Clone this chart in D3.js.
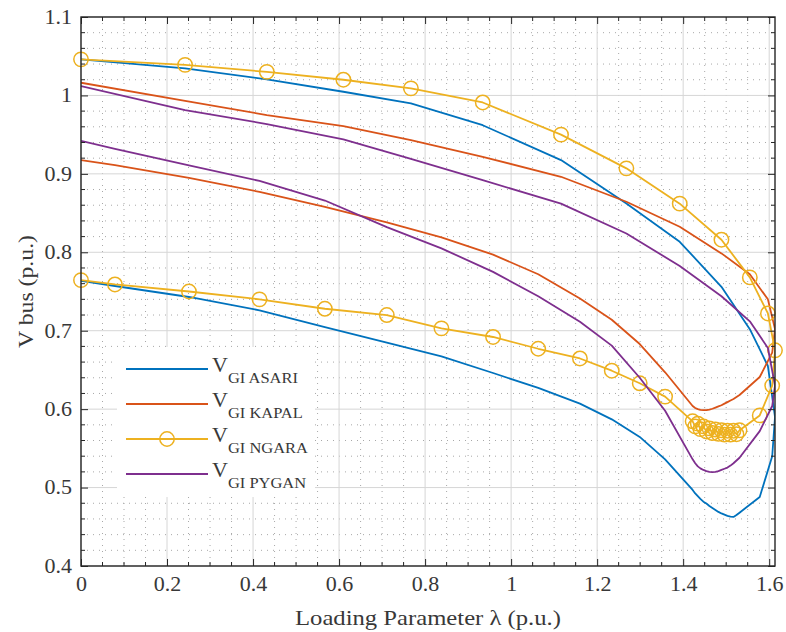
<!DOCTYPE html>
<html><head><meta charset="utf-8">
<script src="https://cdn.jsdelivr.net/npm/d3@7"></script>
<style>
html,body{margin:0;padding:0;background:#fff;}
svg{display:block;}
text{font-family:"Liberation Serif","Times New Roman",serif;fill:#383838;}
</style></head><body>
<svg id="chart" width="786" height="632"></svg>
<script>
// PV curves from a continuation power flow: bus voltage against loading parameter.
// Every bus shares the same sequence of continuation steps (upper branch -> nose -> lower branch).
const lambda = [
  0, 0.242, 0.432, 0.610, 0.767, 0.934, 1.116, 1.268, 1.392, 1.489, 1.555, 1.597, 1.6135,
  1.607, 1.578,
  1.531, 1.524, 1.517, 1.510, 1.503, 1.496, 1.489, 1.482, 1.475, 1.468, 1.461, 1.454, 1.447, 1.440, 1.434, 1.428, 1.422,
  1.358, 1.299, 1.234, 1.160, 1.063, 0.958, 0.838, 0.711, 0.567, 0.415, 0.251, 0.079, 0
];
const vAsari = [
  1.046, 1.0346, 1.0205, 1.0047, 0.990, 0.962, 0.9176, 0.8623, 0.8134, 0.756, 0.702, 0.655, 0.590,
  0.540, 0.488,
  0.468, 0.465, 0.4626, 0.463, 0.464, 0.4655, 0.467, 0.469, 0.4715, 0.474, 0.4765, 0.4796, 0.482, 0.4855, 0.489, 0.4925, 0.497,
  0.536, 0.5646, 0.587, 0.607, 0.627, 0.6461, 0.6674, 0.6848, 0.7045, 0.726, 0.743, 0.757, 0.7635
];
const vKapal = [
  1.0162, 0.9932, 0.975, 0.961, 0.9431, 0.9218, 0.8963, 0.8644, 0.8325, 0.7986, 0.772, 0.740, 0.702,
  0.672, 0.641,
  0.618, 0.6155, 0.613, 0.611, 0.609, 0.607, 0.605, 0.6035, 0.602, 0.6005, 0.5995, 0.5988, 0.5987, 0.599, 0.600, 0.6015, 0.604,
  0.647, 0.683, 0.714, 0.741, 0.772, 0.797, 0.819, 0.838, 0.858, 0.877, 0.895, 0.911, 0.9176
];
const vNgara = [
  1.046, 1.039, 1.030, 1.020, 1.009, 0.991, 0.950, 0.907, 0.862, 0.816, 0.768, 0.722, 0.675,
  0.630, 0.592,
  0.573, 0.568, 0.5725, 0.5675, 0.5725, 0.5675, 0.573, 0.5685, 0.574, 0.5695, 0.5755, 0.5715, 0.578, 0.5745, 0.5815, 0.578, 0.5845,
  0.616, 0.633, 0.649, 0.6646, 0.677, 0.692, 0.703, 0.720, 0.728, 0.740, 0.750, 0.759, 0.7645
];
const vPygan = [
  1.012, 0.9814, 0.9635, 0.944, 0.919, 0.892, 0.862, 0.824, 0.7825, 0.744, 0.712, 0.678, 0.630,
  0.604, 0.572,
  0.538, 0.5345, 0.531, 0.528, 0.5255, 0.524, 0.5225, 0.521, 0.520, 0.5198, 0.520, 0.521, 0.5225, 0.5245, 0.527, 0.531, 0.536,
  0.598, 0.640, 0.681, 0.7115, 0.744, 0.775, 0.805, 0.832, 0.866, 0.891, 0.9108, 0.932, 0.9422
];
const busNames = ["GI ASARI", "GI KAPAL", "GI NGARA", "GI PYGAN"];
const busColors = ["#0072BD", "#D95319", "#EDB120", "#7E2F8E"];
const busMarkers = [false, false, true, false];
const xTicks = [0, 0.2, 0.4, 0.6, 0.8, 1, 1.2, 1.4, 1.6];
const yTicks = [0.4, 0.5, 0.6, 0.7, 0.8, 0.9, 1, 1.1];
const xLabel = "Loading Parameter λ (p.u.)";
const yLabel = "V bus (p.u.)";

const W = 786, H = 632;
const m = {left: 81, top: 17, right: 11, bottom: 66};
const SX = 1.1; // horizontal text stretch
const x = d3.scaleLinear().domain([0, 1.6135]).range([m.left, W - m.right]);
const y = d3.scaleLinear().domain([0.4, 1.1]).range([H - m.bottom, m.top]);
const svg = d3.select("#chart");
const fmt = d => String(+d.toFixed(2));
const textCol = "#383838";

// minor grid positions
const xMinor = d3.range(1, 33).filter(i => i % 4 !== 0).map(i => i * 0.05);
const yMinor = d3.range(1, 35).filter(i => i % 5 !== 0).map(i => 0.4 + i * 0.02);

const grid = svg.append("g");
grid.selectAll(".mx").data(xMinor).join("line")
  .attr("x1", d => x(d)).attr("x2", d => x(d)).attr("y1", y(1.1)).attr("y2", y(0.4))
  .attr("stroke", "#a8a8a8").attr("stroke-width", 1).attr("stroke-dasharray", "1,5");
grid.selectAll(".my").data(yMinor).join("line")
  .attr("y1", d => y(d)).attr("y2", d => y(d)).attr("x1", x(0)).attr("x2", x.range()[1])
  .attr("stroke", "#a8a8a8").attr("stroke-width", 1).attr("stroke-dasharray", "1,5");
grid.selectAll(".gx").data(xTicks).join("line")
  .attr("x1", d => x(d)).attr("x2", d => x(d)).attr("y1", y(1.1)).attr("y2", y(0.4))
  .attr("stroke", "#d6d6d6").attr("stroke-width", 1);
grid.selectAll(".gy").data(yTicks).join("line")
  .attr("y1", d => y(d)).attr("y2", d => y(d)).attr("x1", x(0)).attr("x2", x.range()[1])
  .attr("stroke", "#d6d6d6").attr("stroke-width", 1);

// curves
svg.append("clipPath").attr("id", "plotclip").append("rect")
  .attr("x", m.left).attr("y", m.top).attr("width", W - m.left - m.right).attr("height", H - m.top - m.bottom);
const seriesValues = [vAsari, vKapal, vNgara, vPygan];
const line = d3.line().x(d => x(d[0])).y(d => y(d[1]));
const curves = svg.append("g");
seriesValues.forEach((vals, k) => {
  const pts = lambda.map((l, i) => [l, vals[i]]);
  curves.append("path").datum(pts).attr("d", line)
    .attr("fill", "none").attr("stroke", busColors[k]).attr("stroke-width", 1.8)
    .attr("stroke-linejoin", "round").attr("clip-path", "url(#plotclip)");
  if (busMarkers[k]) {
    curves.append("g").selectAll("circle").data(pts).join("circle")
      .attr("cx", d => x(d[0])).attr("cy", d => y(d[1])).attr("r", 7.2)
      .attr("fill", "none").attr("stroke", busColors[k]).attr("stroke-width", 1.5);
  }
});

// axes box and ticks (inward, mirrored)
const axisCol = "#262626";
const ax = svg.append("g");
const bx = d3.axisBottom(x).tickValues(xTicks).tickFormat(fmt).tickSizeInner(-7).tickSizeOuter(0).tickPadding(11);
const tx = d3.axisTop(x).tickValues(xTicks).tickFormat("").tickSizeInner(-7).tickSizeOuter(0);
const ly = d3.axisLeft(y).tickValues(yTicks).tickFormat(fmt).tickSizeInner(-7).tickSizeOuter(0).tickPadding(9);
const ry = d3.axisRight(y).tickValues(yTicks).tickFormat("").tickSizeInner(-7).tickSizeOuter(0);
ax.append("g").attr("transform", `translate(0,${y(0.4)})`).call(bx);
ax.append("g").attr("transform", `translate(0,${y(1.1)})`).call(tx);
const gL = ax.append("g").attr("transform", `translate(${x(0)},0)`).call(ly);
ax.append("g").attr("transform", `translate(${x.range()[1]},0)`).call(ry);
// minor ticks
const mt = ax.append("g").attr("stroke", axisCol).attr("stroke-width", 1);
xMinor.forEach(v => {
  mt.append("line").attr("x1", x(v)).attr("x2", x(v)).attr("y1", y(0.4)).attr("y2", y(0.4) - 4);
  mt.append("line").attr("x1", x(v)).attr("x2", x(v)).attr("y1", y(1.1)).attr("y2", y(1.1) + 4);
});
yMinor.forEach(v => {
  mt.append("line").attr("y1", y(v)).attr("y2", y(v)).attr("x1", x(0)).attr("x2", x(0) + 4);
  mt.append("line").attr("y1", y(v)).attr("y2", y(v)).attr("x1", x.range()[1]).attr("x2", x.range()[1] - 4);
});
ax.selectAll(".domain").remove();
ax.selectAll(".tick line").attr("stroke", axisCol).attr("stroke-width", 1);
ax.selectAll(".tick text").attr("fill", textCol).attr("font-size", 20)
  .attr("font-family", '"Liberation Serif","Times New Roman",serif')
  .attr("transform", `scale(${SX},1)`);
gL.selectAll(".tick text").attr("x", -9 / SX);
ax.append("rect").attr("x", m.left).attr("y", m.top)
  .attr("width", W - m.left - m.right).attr("height", H - m.top - m.bottom)
  .attr("fill", "none").attr("stroke", axisCol).attr("stroke-width", 1.4);

// axis labels
svg.append("text").attr("x", (x(0) + x.range()[1]) / 2).attr("y", 625)
  .attr("text-anchor", "middle").attr("font-size", 22)
  .attr("textLength", 266).attr("lengthAdjust", "spacingAndGlyphs").text(xLabel);
svg.append("text").attr("transform", `translate(33,${(y(1.1) + y(0.4)) / 2}) rotate(-90)`)
  .attr("text-anchor", "middle").attr("font-size", 22)
  .attr("textLength", 113).attr("lengthAdjust", "spacingAndGlyphs").text(yLabel);

// legend
const lg = svg.append("g");
lg.append("rect").attr("x", 117).attr("y", 347).attr("width", 198).attr("height", 150).attr("fill", "#fff");
busNames.forEach((name, k) => {
  const yy = 369 + k * 35;
  lg.append("line").attr("x1", 126).attr("x2", 208).attr("y1", yy).attr("y2", yy)
    .attr("stroke", busColors[k]).attr("stroke-width", 1.8);
  if (busMarkers[k]) {
    lg.append("circle").attr("cx", 167).attr("cy", yy).attr("r", 7.2)
      .attr("fill", "none").attr("stroke", busColors[k]).attr("stroke-width", 1.5);
  }
  const t = lg.append("text").attr("transform", `translate(212,${yy + 3}) scale(${SX},1)`);
  t.append("tspan").attr("font-size", 20).text("V");
  t.append("tspan").attr("font-size", 15).attr("dy", 11).text(name);
});
</script>
</body></html>
